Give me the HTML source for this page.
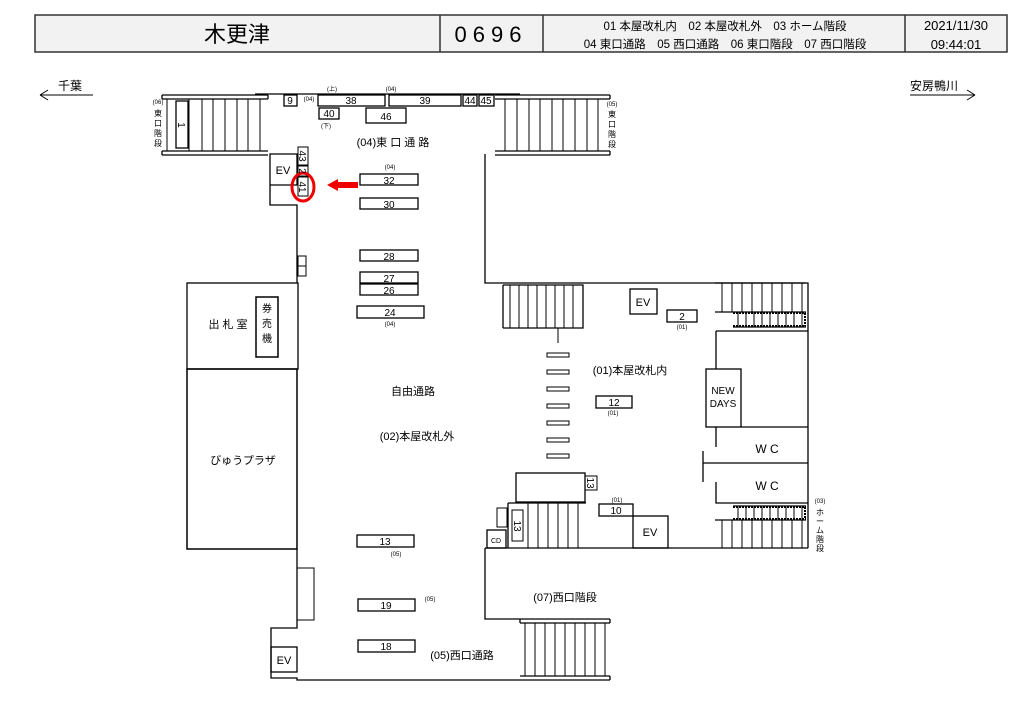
<!DOCTYPE html>
<html><head><meta charset="utf-8">
<style>
html,body{margin:0;padding:0;background:#fff;}
svg{display:block;font-family:"Liberation Sans","Noto Sans CJK JP",sans-serif;}
text{fill:#000;}
</style></head><body>
<svg width="1024" height="724" viewBox="0 0 1024 724" xmlns="http://www.w3.org/2000/svg">
<!-- header -->
<rect x="35" y="15" width="972" height="37" fill="#f2f2f2" stroke="#333" stroke-width="1.5"/>
<line x1="440" y1="15" x2="440" y2="52" stroke="#333" stroke-width="1.5"/>
<line x1="543" y1="15" x2="543" y2="52" stroke="#333" stroke-width="1.5"/>
<line x1="905" y1="15" x2="905" y2="52" stroke="#333" stroke-width="1.5"/>
<text x="237" y="42" font-size="22" text-anchor="middle">木更津</text>
<text x="491" y="42" font-size="22" text-anchor="middle" letter-spacing="6">0696</text>
<text x="725" y="30" font-size="11.5" text-anchor="middle">01 本屋改札内　02 本屋改札外　03 ホーム階段</text>
<text x="725" y="48" font-size="11.5" text-anchor="middle">04 東口通路　05 西口通路　06 東口階段　07 西口階段</text>
<text x="956" y="30" font-size="13" text-anchor="middle">2021/11/30</text>
<text x="956" y="49" font-size="13" text-anchor="middle">09:44:01</text>

<!-- directions -->
<g stroke="#000" fill="none" stroke-width="1">
<path d="M40 95 H93 M40 95 l8 -5 M40 95 l8 5"/>
<path d="M910 95 H975 M975 95 l-8 -5 M975 95 l-8 5"/>
</g>
<text x="58" y="90" font-size="12">千葉</text>
<text x="910" y="90" font-size="12">安房鴨川</text>

<g stroke="#000" fill="none" stroke-width="1.3">
<!-- top stairs left -->
<path d="M162 95 H268 M162 99 H268 M162 95 V99 M268 95V99 M162 151 H268 M162 155 H268 M162 151 V155"/>
<path d="M167 99V151 M189 99V151 M202 99V151 M213 99V151 M225 99V151 M237 99V151 M248 99V151 M260 99V151" stroke-width="1"/>
<rect x="176" y="101" width="12" height="47"/>
<!-- top line -->
<path d="M255 94 H520"/>
<!-- top stairs right -->
<path d="M495 95 H610 M495 99 H610 M610 95V99 M495 151 H610 M495 155 H610 M610 151V155"/>
<path d="M505 99V151 M517 99V151 M529 99V151 M540 99V151 M552 99V151 M563 99V151 M575 99V151 M587 99V151 M598 99V151" stroke-width="1"/>
<!-- top items -->
<rect x="284" y="95" width="13" height="11"/>
<rect x="318" y="95" width="67" height="11"/>
<rect x="389" y="95" width="72" height="11"/>
<rect x="463" y="95" width="14" height="11"/>
<rect x="479" y="95" width="15" height="11"/>
<rect x="319" y="108" width="20" height="11"/>
<rect x="366" y="108" width="40" height="15"/>
<!-- east corridor walls -->
<path d="M270 154 H297 V185 H270 Z M270 185 V205 H297 V283"/>
<path d="M485 154 V283 H808 V548"/>
<rect x="298" y="147" width="10" height="18" stroke-width="1"/>
<rect x="298" y="166" width="10" height="10" stroke-width="1"/>
<rect x="298" y="177" width="10" height="19" stroke-width="1"/>
<rect x="298" y="256" width="8" height="10" stroke-width="1"/>
<rect x="298" y="266" width="8" height="10" stroke-width="1"/>
<rect x="360" y="174" width="58" height="11"/>
<rect x="360" y="198" width="58" height="11"/>
<rect x="360" y="250" width="58" height="11"/>
<rect x="360" y="272" width="58" height="11"/>
<rect x="360" y="284" width="58" height="11"/>
<rect x="357" y="306" width="67" height="12"/>
<!-- left buildings -->
<rect x="187" y="283" width="111" height="86"/>
<rect x="256" y="297" width="22" height="60" stroke-width="1.5"/>
<rect x="187" y="369" width="110" height="180" stroke-width="1.5"/>
<path d="M297 549 V628 H271 V678 H297 V680 H520"/>
<rect x="297" y="568" width="17" height="52" stroke-width="1"/>
<rect x="271" y="647" width="26" height="25"/>
<rect x="357" y="535" width="57" height="12"/>
<rect x="358" y="599" width="57" height="12"/>
<rect x="358" y="640" width="57" height="12"/>
<!-- west stairs area -->
<path d="M485 548 H808 M485 548 V619 H520"/>
<path d="M520 619 H610 M520 623 H610 M520 619V623 M610 619V623 M520 676 H610 M520 680 H610 M610 676V680"/>
<path d="M525 623V676 M535 623V676 M545 623V676 M555 623V676 M565 623V676 M575 623V676 M585 623V676 M595 623V676 M605 623V676" stroke-width="1"/>
<!-- inner area -->
<path d="M503 285 H583 V328 H503 M503 285 V328"/>
<path d="M510 285V328 M519 285V328 M528 285V328 M537 285V328 M546 285V328 M555 285V328 M564 285V328 M573 285V328" stroke-width="1"/>
<path d="M558 328 V343" stroke-width="1"/>
<rect x="547" y="353" width="22" height="4" stroke-width="1"/>
<rect x="547" y="370" width="22" height="4" stroke-width="1"/>
<rect x="547" y="387" width="22" height="4" stroke-width="1"/>
<rect x="547" y="404" width="22" height="4" stroke-width="1"/>
<rect x="547" y="421" width="22" height="4" stroke-width="1"/>
<rect x="547" y="438" width="22" height="4" stroke-width="1"/>
<rect x="547" y="454" width="22" height="4" stroke-width="1"/>
<rect x="630" y="289" width="27" height="25"/>
<rect x="667" y="310" width="30" height="12"/>
<rect x="596" y="396" width="36" height="12"/>
<!-- right stairs top -->
<path d="M715 283 H806 M715 312 H806 M733 327 H806"/>
<path d="M722 283V312 M732 283V312 M742 283V312 M752 283V312 M762 283V312 M772 283V312 M782 283V312 M792 283V312 M802 283V312" stroke-width="1"/>
<path d="M738 312V327 M746 312V327 M754 312V327 M762 312V327 M770 312V327 M778 312V327 M786 312V327 M794 312V327 M802 312V327" stroke-width="1"/>
<path d="M733 313 H806 M733 326 H806 M805 313 V326" stroke-dasharray="2 1" stroke-width="2"/>
<path d="M716 331 H808 M716 331 V369"/>
<rect x="706" y="369" width="35" height="58"/>
<path d="M741 427 H808 M716 427 V447 M703 451 V482 M703 463 H808 M716 482 V503 H808"/>
<!-- right stairs bottom -->
<path d="M733 506 H806 M715 520 H806"/>
<path d="M733 507 H806 M733 519 H806 M805 507 V519" stroke-dasharray="2 1" stroke-width="2"/>
<path d="M738 507V519 M746 507V519 M754 507V519 M762 507V519 M770 507V519 M778 507V519 M786 507V519 M794 507V519 M802 507V519" stroke-width="1"/>
<path d="M722 520V548 M732 520V548 M742 520V548 M752 520V548 M762 520V548 M772 520V548 M782 520V548 M792 520V548 M802 520V548" stroke-width="1"/>
<!-- bottom left inner -->
<rect x="516" y="473" width="69" height="29"/>
<rect x="585" y="476" width="12" height="14" stroke-width="1"/>
<path d="M508 503 H586 M508 503 V548"/>
<path d="M528 503V548 M538 503V548 M548 503V548 M558 503V548 M568 503V548 M578 503V548" stroke-width="1"/>
<rect x="512" y="510" width="11" height="31" stroke-width="1"/>
<rect x="497" y="508" width="10" height="19" stroke-width="1"/>
<rect x="487" y="530" width="19" height="18"/>
<rect x="599" y="504" width="34" height="12"/>
<rect x="633" y="516" width="35" height="32"/>
</g>

<!-- red marker -->
<ellipse cx="303" cy="187" rx="11" ry="14" fill="none" stroke="#e00" stroke-width="3"/>
<path d="M358 182 H338 V179 L327 185 L338 191 V188 H358 Z" fill="#e00"/>

<!-- labels -->
<g font-size="10" text-anchor="middle">
<text x="290" y="104">9</text>
<text x="351" y="104">38</text>
<text x="425" y="104">39</text>
<text x="470" y="104">44</text>
<text x="486" y="104">45</text>
<text x="329" y="117">40</text>
<text x="386" y="120">46</text>
<text x="389" y="184">32</text>
<text x="389" y="208">30</text>
<text x="389" y="260">28</text>
<text x="389" y="282">27</text>
<text x="389" y="294">26</text>
<text x="390" y="316">24</text>
<text x="385" y="545">13</text>
<text x="386" y="609">19</text>
<text x="386" y="650">18</text>
<text x="682" y="320">2</text>
<text x="614" y="406">12</text>
<text x="616" y="514">10</text>
<text x="283" y="174" font-size="11">EV</text>
<text x="643" y="306" font-size="11">EV</text>
<text x="650" y="536" font-size="11">EV</text>
<text x="284" y="664" font-size="11">EV</text>
<text x="496" y="543" font-size="7">CD</text>
</g>
<g font-size="10" transform="rotate(90)" text-anchor="middle">
<text x="156" y="-299">43</text>
<text x="171" y="-299">2</text>
<text x="187" y="-299">41</text>
<text x="125" y="-178">1</text>
<text x="483" y="-587">13</text>
<text x="526" y="-514">13</text>
</g>
<g font-size="6" text-anchor="middle">
<text x="332" y="91">(上)</text>
<text x="391" y="91">(04)</text>
<text x="309" y="101">(04)</text>
<text x="326" y="128">(下)</text>
<text x="390" y="169">(04)</text>
<text x="390" y="326">(04)</text>
<text x="396" y="556">(05)</text>
<text x="430" y="601">(05)</text>
<text x="682" y="329">(01)</text>
<text x="613" y="415">(01)</text>
<text x="617" y="502">(01)</text>
<text x="158" y="104">(06)</text>
<text x="612" y="106">(05)</text>
<text x="820" y="503">(03)</text>
</g>
<g font-size="8" text-anchor="middle">
<text x="158" y="116">東</text><text x="158" y="126">口</text><text x="158" y="136">階</text><text x="158" y="146">段</text>
<text x="612" y="117">東</text><text x="612" y="127">口</text><text x="612" y="137">階</text><text x="612" y="147">段</text>
<text x="820" y="515">ホ</text><text x="820" y="524">ー</text><text x="820" y="533">ム</text><text x="820" y="542">階</text><text x="820" y="551">段</text>
</g>
<g font-size="11" text-anchor="middle">
<text x="393" y="146">(04)東 口 通 路</text>
<text x="413" y="395">自由通路</text>
<text x="417" y="440">(02)本屋改札外</text>
<text x="630" y="374">(01)本屋改札内</text>
<text x="565" y="601">(07)西口階段</text>
<text x="462" y="659">(05)西口通路</text>
<text x="228" y="328">出 札 室</text>
<text x="243" y="464">びゅうプラザ</text>
<text x="723" y="394" font-size="10">NEW</text>
<text x="723" y="407" font-size="10">DAYS</text>
<text x="767" y="453" font-size="12">W C</text>
<text x="767" y="490" font-size="12">W C</text>
<text x="267" y="312" font-size="10">券</text>
<text x="267" y="327" font-size="10">売</text>
<text x="267" y="342" font-size="10">機</text>
</g>
</svg>
</body></html>
